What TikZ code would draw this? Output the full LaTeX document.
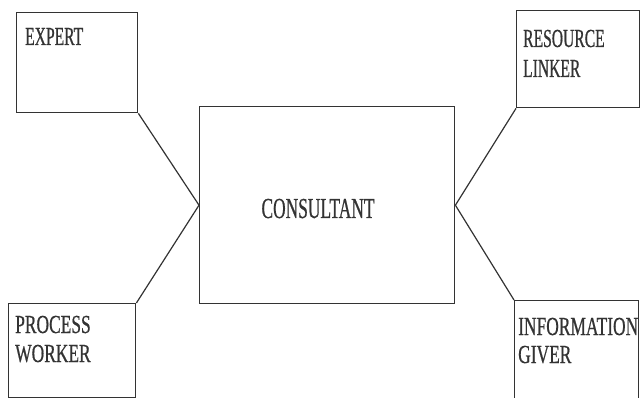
\documentclass[tikz,border=0pt]{standalone}
\usepackage{fontspec}
\newfontfamily\labelfont[FakeStretch=0.6,FakeBold=0.6]{Liberation Serif}
\newfontfamily\widelabelfont[FakeStretch=0.67,FakeBold=0.6]{Liberation Serif}
\definecolor{ink}{HTML}{333333}
\begin{document}
\begin{tikzpicture}[x=1pt,y=-1pt,
  box/.style={draw=ink, line width=1.4pt, rectangle, inner sep=0pt, anchor=north west},
  lbl/.style={anchor=base west, inner sep=0pt, text=ink, font=\labelfont\fontsize{26}{30}\selectfont},
  widelbl/.style={lbl, font=\widelabelfont\fontsize{26}{30}\selectfont},
  link/.style={draw=ink, line width=1.2pt}]
\useasboundingbox (0,0) rectangle (640,398);
\clip (0,0) rectangle (640,398);
\node[box, minimum width=121pt, minimum height=100pt] (expert) at (16,12) {};
\node[box, minimum width=255pt, minimum height=197pt] (cons) at (199,106) {};
\node[box, minimum width=123pt, minimum height=97pt] (res) at (516,10) {};
\node[box, minimum width=127pt, minimum height=94pt] (proc) at (8,303) {};
\node[box, minimum width=124pt, minimum height=120pt] (info) at (514,300) {};
\node[lbl] (t1) at (25,45) {EXPERT};
\node[lbl] (t2) at (523,47) {RESOURCE};
\node[lbl] (t3) at (523,77) {LINKER};
\node[widelbl] (t4) at (15,333) {PROCESS};
\node[widelbl] (t5) at (15,362) {WORKER};
\node[widelbl] (t6) at (518,335) {INFORMATION};
\node[widelbl] (t7) at (518,363) {GIVER};
\node[lbl, anchor=base, font=\labelfont\fontsize{29}{33}\selectfont] (t8) at (318,218) {CONSULTANT};
\draw[link] (expert.south east) -- (cons.west);
\draw[link] (proc.north east) -- (cons.west);
\draw[link] (res.south west) -- (cons.east);
\draw[link] (info.north west) -- (cons.east);
\end{tikzpicture}
\end{document}
